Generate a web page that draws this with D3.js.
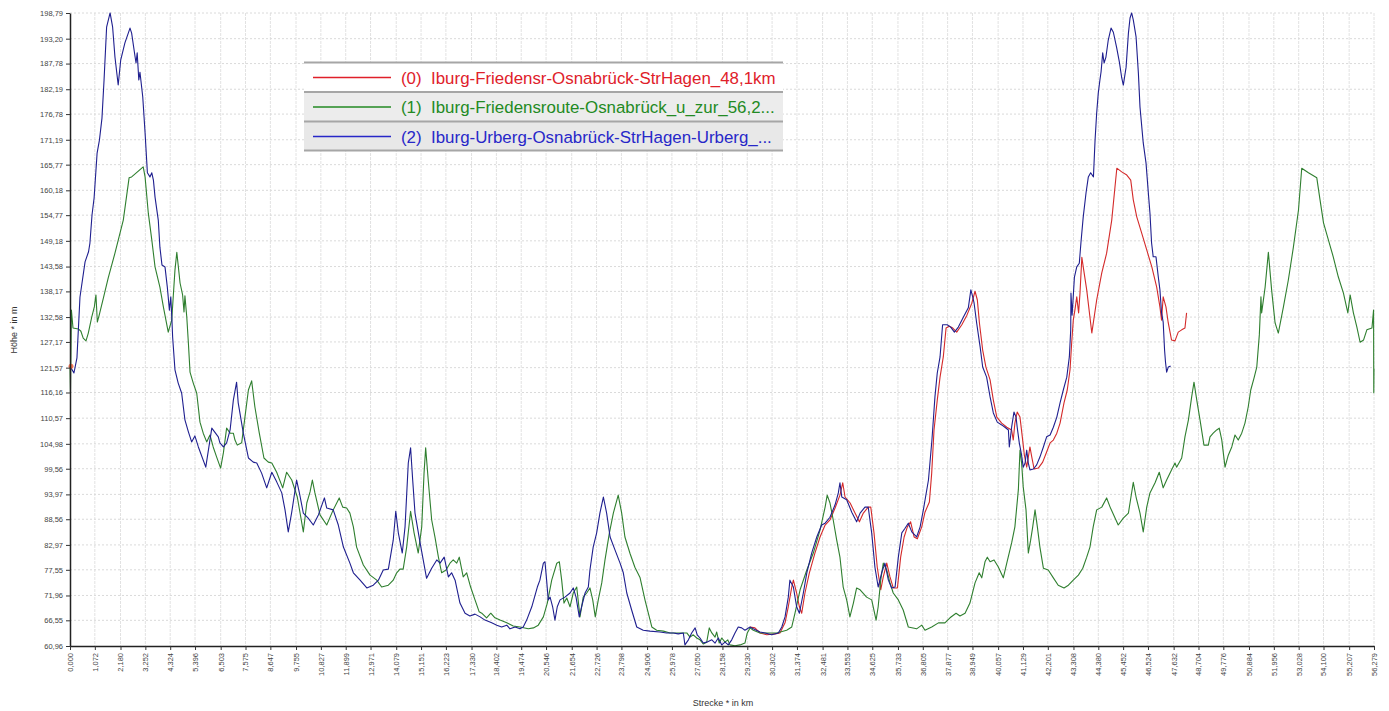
<!DOCTYPE html>
<html>
<head>
<meta charset="utf-8">
<script src="https://cdn.jsdelivr.net/npm/d3@7/dist/d3.min.js"></script>
<style>
  html, body { margin: 0; padding: 0; background: #ffffff; }
  svg { display: block; }
  text { font-family: "Liberation Sans", Arial, sans-serif; }
</style>
</head>
<body>
<svg id="chart" width="1389" height="711"></svg>
<script>
// ---------------- DATA ----------------
const xTickValues = [0.000,1.072,2.180,3.252,4.324,5.396,6.503,7.575,8.647,9.755,10.827,11.899,12.971,14.079,15.151,16.223,17.330,18.402,19.474,20.546,21.654,22.726,23.798,24.906,25.978,27.050,28.158,29.230,30.302,31.374,32.481,33.553,34.625,35.733,36.805,37.877,38.949,40.057,41.129,42.201,43.308,44.380,45.452,46.524,47.632,48.704,49.776,50.884,51.956,53.028,54.100,55.207,56.279];
const yTickValues = [60.96,66.55,71.96,77.55,82.97,88.56,93.97,99.56,104.98,110.57,116.16,121.57,127.17,132.58,138.17,143.58,149.18,154.77,160.18,165.77,171.19,176.78,182.19,187.78,193.20,198.79];

const seriesNames = [
  "(0)  Iburg-Friedensr-Osnabrück-StrHagen_48,1km",
  "(1)  Iburg-Friedensroute-Osnabrück_u_zur_56,2...",
  "(2)  Iburg-Urberg-Osnabrück-StrHagen-Urberg_..."
];

// stretch shared by route (0) and route (2): [km, m]
const sharedStart = [[0.00,121.9],[0.17,120.4],[0.30,123.7],[0.43,136.9],[0.65,144.6],[0.80,146.8],[0.86,148.7],[0.95,154.8],[1.04,158.5],[1.17,168.3],[1.27,171.1],[1.38,175.9],[1.47,184.2],[1.58,195.7],[1.73,198.8],[1.84,195.7],[1.94,189.2],[2.08,183.1],[2.19,188.6],[2.37,192.3],[2.59,195.5],[2.66,194.4],[2.81,189.2],[2.85,187.9],[2.90,190.1],[2.97,184.2],[3.02,185.9],[3.14,180.5],[3.24,172.7],[3.34,164.0],[3.45,163.1],[3.53,164.0],[3.60,162.4],[3.67,158.7],[3.81,153.7],[3.88,147.8],[3.97,143.9],[4.10,143.5],[4.20,139.1],[4.29,134.1],[4.35,137.0],[4.40,131.9],[4.43,128.2],[4.53,121.1],[4.67,118.2],[4.82,116.0],[4.96,110.2],[5.11,107.6],[5.25,105.4],[5.39,106.7],[5.54,104.3],[5.86,99.9],[6.12,108.4],[6.40,106.5],[6.47,105.2],[6.62,104.3],[6.76,105.2],[6.91,108.0],[7.05,114.5],[7.19,118.4],[7.26,113.9],[7.48,107.3],[7.70,101.9],[7.91,101.0],[8.06,100.8],[8.27,98.6],[8.49,95.4],[8.71,98.8],[8.92,96.7],[9.14,94.3],[9.28,90.6],[9.42,85.8],[9.57,90.1],[9.78,97.1],[9.90,94.3],[10.07,89.9],[10.28,88.8],[10.50,87.3],[10.72,89.5],[10.98,93.2],[11.08,91.0],[11.36,90.6],[11.58,87.3],[11.80,82.5],[12.08,79.0],[12.23,76.9],[12.52,75.3],[12.81,73.6],[13.09,74.2],[13.31,75.3],[13.52,77.5],[13.74,77.7],[13.95,84.0],[14.06,90.3],[14.17,85.6],[14.34,81.2],[14.46,86.9],[14.60,100.8],[14.70,104.1],[14.79,97.1],[14.89,89.9],[15.11,83.4],[15.39,75.7],[15.61,77.9],[15.83,79.7],[15.97,79.0],[16.15,80.3],[16.33,76.0],[16.47,76.9],[16.62,75.3],[16.83,70.3],[17.05,68.1],[17.26,67.5],[17.48,67.9],[17.70,67.3],[17.91,66.6],[18.20,66.0],[18.42,65.5],[18.63,65.1],[18.85,65.5],[18.99,64.7],[19.21,65.1],[19.42,64.7],[19.56,65.1],[19.71,66.6],[19.93,69.5],[20.17,73.8],[20.28,75.3],[20.43,79.0],[20.50,79.3],[20.57,75.3],[20.64,71.0],[20.72,71.6],[20.83,69.5],[20.93,66.6],[21.03,69.5],[21.15,71.0],[21.36,71.6],[21.58,72.5],[21.72,73.6],[21.84,71.6],[21.98,67.3],[22.08,69.5],[22.23,72.5],[22.37,73.8],[22.44,77.5],[22.58,82.5],[22.73,85.6],[22.87,89.9],[23.02,93.4],[23.16,89.9],[23.31,84.7],[23.52,81.9],[23.74,79.0],[23.88,76.9],[24.03,72.5],[24.24,68.8],[24.46,65.1],[24.74,64.4],[25.03,64.2],[25.46,64.0],[25.75,63.8],[26.04,63.8],[26.25,63.6],[26.47,63.8],[26.54,61.2],[26.69,62.3],[26.83,63.8],[26.98,64.9],[27.07,63.4],[27.19,62.7],[27.33,61.6],[27.48,61.8],[27.70,62.3],[27.84,61.6],[27.98,62.7],[28.13,61.2],[28.27,61.8],[28.41,61.2],[28.56,62.3],[28.70,63.8],[28.84,65.1],[28.99,64.9],[29.13,64.4],[29.35,65.1]];

// route (0) after the shared stretch
const route0Tail = [[29.56,64.9],[29.78,63.8],[30.07,63.4],[30.43,63.6],[30.64,63.8],[30.86,66.0],[31.00,69.5],[31.15,73.8],[31.22,75.3],[31.36,72.5],[31.48,69.5],[31.58,68.1],[31.72,72.5],[31.91,76.9],[32.15,81.2],[32.37,84.7],[32.59,87.3],[32.80,88.4],[33.02,91.0],[33.23,93.8],[33.35,96.5],[33.45,93.4],[33.67,92.1],[33.88,89.9],[34.07,88.0],[34.24,89.9],[34.45,91.2],[34.56,91.2],[34.70,85.6],[34.84,78.1],[34.99,73.2],[35.10,76.0],[35.25,79.0],[35.39,76.0],[35.53,73.6],[35.71,73.6],[35.85,80.3],[36.00,84.7],[36.14,86.9],[36.28,88.0],[36.43,84.7],[36.57,84.3],[36.76,86.9],[36.90,90.1],[37.09,92.3],[37.19,98.6],[37.29,108.0],[37.43,114.5],[37.55,119.5],[37.69,123.9],[37.81,130.2],[37.95,130.6],[38.10,130.2],[38.27,129.3],[38.49,130.9],[38.71,133.0],[38.92,135.6],[39.06,138.2],[39.16,136.3],[39.25,131.3],[39.39,125.4],[39.53,121.7],[39.71,118.9],[39.85,114.5],[40.00,110.8],[40.21,109.5],[40.43,108.6],[40.64,108.0],[40.71,105.8],[40.78,109.5],[40.88,111.9],[41.00,110.8],[41.10,106.5],[41.19,102.5],[41.29,99.9],[41.36,102.1],[41.43,104.3],[41.51,102.1],[41.61,99.5],[41.79,99.7],[41.98,101.0],[42.15,103.2],[42.30,105.2],[42.44,105.8],[42.59,107.3],[42.73,109.5],[42.90,113.9],[43.04,116.7],[43.16,121.1],[43.23,126.9],[43.30,131.9],[43.37,134.1],[43.45,137.0],[43.53,133.5],[43.59,137.8],[43.67,145.6],[43.73,143.5],[43.88,138.5],[44.10,129.1],[44.31,136.3],[44.53,142.2],[44.74,146.5],[44.96,153.7],[45.10,160.9],[45.18,165.0],[45.39,164.2],[45.61,163.5],[45.78,162.4],[45.89,158.1],[46.04,154.4],[46.25,150.9],[46.47,147.2],[46.69,143.5],[46.90,139.1],[47.04,134.8],[47.11,131.9],[47.18,137.0],[47.30,134.8],[47.40,131.3],[47.54,127.6],[47.69,127.4],[47.83,129.3],[47.98,129.8],[48.12,130.2],[48.19,133.5]];

// route (2) after the shared stretch
const route2Tail = [[29.49,64.7],[29.78,64.0],[30.00,63.8],[30.28,63.4],[30.57,63.8],[30.72,65.1],[30.86,67.3],[31.00,71.6],[31.07,75.3],[31.22,73.8],[31.36,69.5],[31.48,68.1],[31.65,72.5],[31.80,76.9],[32.01,81.2],[32.23,84.7],[32.44,87.3],[32.59,87.7],[32.80,89.0],[33.02,91.7],[33.16,94.3],[33.23,96.5],[33.31,93.4],[33.52,92.8],[33.74,90.1],[33.95,88.0],[34.10,89.9],[34.31,91.2],[34.45,91.2],[34.60,85.6],[34.74,78.1],[34.88,73.8],[35.03,76.9],[35.17,79.0],[35.32,75.3],[35.46,73.6],[35.61,73.8],[35.75,80.3],[35.90,85.6],[36.04,86.6],[36.18,87.7],[36.33,85.8],[36.54,84.7],[36.69,86.9],[36.83,90.6],[37.05,97.1],[37.20,105.8],[37.33,115.2],[37.43,120.4],[37.55,123.9],[37.66,130.9],[37.86,130.9],[38.01,130.4],[38.17,129.3],[38.34,130.4],[38.56,132.6],[38.77,134.6],[38.88,138.5],[38.96,137.0],[39.02,135.6],[39.13,131.3],[39.28,126.1],[39.39,121.7],[39.56,119.5],[39.71,115.2],[39.85,111.7],[40.02,109.7],[40.21,109.1],[40.35,108.6],[40.50,108.0],[40.54,104.3],[40.64,108.6],[40.74,111.9],[40.83,110.8],[40.88,108.6],[40.97,105.2],[41.07,102.5],[41.14,99.9],[41.22,100.8],[41.29,103.6],[41.36,100.8],[41.43,99.3],[41.58,99.5],[41.72,100.4],[41.86,102.1],[42.01,104.3],[42.15,106.5],[42.30,106.9],[42.44,108.6],[42.59,110.8],[42.73,113.9],[42.87,116.7],[43.02,119.5],[43.13,123.9],[43.19,129.8],[43.20,137.8],[43.25,133.0],[43.35,141.3],[43.45,143.5],[43.56,144.3],[43.63,148.7],[43.73,154.4],[43.85,159.6],[43.95,163.1],[44.05,164.0],[44.17,163.1],[44.24,171.1],[44.31,177.0],[44.38,181.4],[44.45,184.2],[44.50,186.0],[44.57,190.1],[44.63,187.9],[44.71,189.2],[44.81,192.9],[44.93,195.5],[45.03,194.6],[45.17,191.3],[45.29,188.1],[45.39,184.7],[45.46,183.1],[45.58,187.0],[45.68,194.4],[45.75,197.7],[45.82,198.8],[45.89,197.3],[46.01,193.6],[46.11,185.7],[46.18,178.3],[46.32,170.5],[46.44,166.1],[46.54,159.6],[46.61,155.2],[46.68,148.7],[46.75,145.7],[46.87,145.7],[46.97,141.3],[47.04,138.5],[47.11,133.5],[47.18,131.5],[47.24,125.4],[47.28,122.8],[47.33,120.6],[47.40,121.7],[47.50,121.9]];

// route (1)
const route1 = [[0.00,121.7],[0.02,116.1],[0.06,134.1],[0.13,130.2],[0.36,130.0],[0.47,129.5],[0.57,128.0],[0.69,127.4],[0.79,129.1],[0.94,132.6],[1.05,134.8],[1.12,137.4],[1.18,131.5],[1.26,133.0],[1.44,136.7],[1.65,141.1],[1.94,146.5],[2.30,153.7],[2.55,162.9],[2.66,163.1],[3.16,165.3],[3.24,163.1],[3.38,155.2],[3.53,149.4],[3.67,143.5],[3.88,139.1],[4.03,134.8],[4.24,129.3],[4.39,131.9],[4.53,142.8],[4.61,146.7],[4.75,140.0],[4.86,137.4],[4.92,133.7],[4.96,137.2],[5.04,132.6],[5.11,126.9],[5.18,120.6],[5.32,118.2],[5.47,116.0],[5.61,109.7],[5.75,107.3],[5.90,105.4],[6.04,106.9],[6.18,104.3],[6.33,102.1],[6.50,99.7],[6.62,103.0],[6.76,108.4],[6.91,107.3],[7.05,107.3],[7.12,105.8],[7.22,104.7],[7.41,105.2],[7.55,110.8],[7.70,116.7],[7.84,118.7],[7.98,113.0],[8.17,107.3],[8.37,101.9],[8.56,101.0],[8.71,100.8],[8.92,98.8],[9.18,95.4],[9.35,98.8],[9.57,97.1],[9.81,93.4],[10.07,85.8],[10.22,92.1],[10.36,94.5],[10.46,97.1],[10.57,94.3],[10.79,89.5],[11.08,87.3],[11.36,90.6],[11.62,93.2],[11.77,91.2],[11.94,91.0],[12.08,89.9],[12.23,86.9],[12.37,82.5],[12.66,78.6],[12.95,76.4],[13.24,75.3],[13.45,73.8],[13.74,74.2],[13.95,75.3],[14.10,76.9],[14.24,77.7],[14.38,77.7],[14.53,82.5],[14.70,90.3],[14.85,85.6],[15.03,81.2],[15.18,86.9],[15.28,98.6],[15.35,104.1],[15.46,97.1],[15.61,88.4],[15.75,84.7],[15.90,80.3],[16.04,76.9],[16.23,77.5],[16.40,79.0],[16.54,79.7],[16.69,79.0],[16.80,80.3],[16.97,76.0],[17.12,76.9],[17.29,73.8],[17.48,71.0],[17.66,68.4],[17.77,68.1],[17.98,67.1],[18.16,68.1],[18.34,67.1],[18.56,66.6],[18.85,66.0],[19.13,65.3],[19.42,65.1],[19.78,64.7],[20.00,64.9],[20.21,65.5],[20.43,67.3],[20.60,70.3],[20.79,75.3],[21.01,79.0],[21.12,79.3],[21.22,75.3],[21.32,70.3],[21.44,71.4],[21.58,69.5],[21.72,72.5],[21.87,73.8],[22.01,67.3],[22.15,71.6],[22.30,72.5],[22.44,73.6],[22.56,71.0],[22.67,67.3],[22.80,71.0],[22.95,74.7],[23.09,79.7],[23.28,85.6],[23.45,89.9],[23.66,93.8],[23.81,89.9],[23.95,84.7],[24.17,81.1],[24.38,78.1],[24.60,75.9],[24.82,70.9],[24.96,68.1],[25.11,65.1],[25.32,64.4],[25.61,64.2],[25.90,63.8],[26.18,63.8],[26.40,63.8],[26.62,63.8],[26.76,62.9],[26.90,63.4],[27.05,62.7],[27.19,62.3],[27.33,61.4],[27.48,61.8],[27.59,64.9],[27.70,63.8],[27.84,62.9],[27.91,64.0],[28.02,61.6],[28.13,62.7],[28.27,61.8],[28.39,62.3],[28.48,61.2],[28.70,61.0],[28.92,61.2],[29.13,61.6],[29.23,63.8],[29.35,64.9],[29.49,64.4],[29.78,63.8],[30.07,63.8],[30.50,63.8],[30.93,64.4],[31.15,65.1],[31.29,68.1],[31.51,73.2],[31.80,77.5],[32.08,81.2],[32.37,86.2],[32.59,91.2],[32.68,93.8],[32.80,92.1],[32.94,88.4],[33.09,84.0],[33.23,80.3],[33.37,73.8],[33.52,71.0],[33.66,67.3],[33.81,70.3],[33.95,73.6],[34.10,73.2],[34.38,71.6],[34.60,71.0],[34.79,66.6],[34.88,69.5],[34.99,75.3],[35.10,79.0],[35.25,77.5],[35.39,74.7],[35.53,72.5],[35.75,71.0],[35.96,68.8],[36.18,65.1],[36.54,64.7],[36.76,65.5],[36.90,64.4],[37.19,65.1],[37.48,66.0],[37.76,66.0],[37.98,67.1],[38.24,68.1],[38.41,67.5],[38.63,68.1],[38.84,70.3],[39.06,74.7],[39.24,76.9],[39.35,75.8],[39.49,79.3],[39.59,80.3],[39.71,79.3],[39.88,79.7],[40.06,78.2],[40.28,75.8],[40.43,79.0],[40.64,83.4],[40.78,86.9],[40.93,95.0],[41.00,103.6],[41.07,100.8],[41.14,95.6],[41.26,90.6],[41.36,81.2],[41.46,84.0],[41.55,86.9],[41.65,90.6],[41.75,86.9],[41.86,82.5],[42.01,77.9],[42.22,77.5],[42.44,75.8],[42.65,74.2],[42.90,73.6],[43.09,74.2],[43.30,75.3],[43.52,76.4],[43.71,77.9],[43.88,80.3],[44.02,82.5],[44.16,86.9],[44.31,90.6],[44.53,91.2],[44.74,93.2],[44.89,91.2],[45.24,87.3],[45.46,88.8],[45.68,89.9],[45.89,96.6],[46.01,93.4],[46.18,89.9],[46.32,85.8],[46.47,91.2],[46.61,94.3],[46.83,96.5],[47.01,98.8],[47.18,95.4],[47.33,97.1],[47.54,99.3],[47.69,100.8],[47.76,99.9],[47.98,101.9],[48.12,106.5],[48.27,110.2],[48.41,115.2],[48.51,118.4],[48.63,114.5],[48.77,110.2],[48.94,104.7],[49.13,104.7],[49.20,106.5],[49.34,107.3],[49.49,108.0],[49.60,108.4],[49.71,105.8],[49.85,99.9],[49.99,102.5],[50.14,104.3],[50.28,106.9],[50.42,105.8],[50.57,107.3],[50.71,109.5],[50.85,113.0],[50.96,116.7],[51.10,119.3],[51.22,121.7],[51.33,128.7],[51.40,137.0],[51.43,133.5],[51.58,139.1],[51.72,146.7],[51.86,138.5],[52.01,131.3],[52.15,129.1],[52.37,134.8],[52.58,140.6],[52.80,147.8],[53.02,155.9],[53.16,165.0],[53.45,164.0],[53.81,162.9],[53.95,158.1],[54.10,153.1],[54.31,149.4],[54.52,145.7],[54.74,141.3],[54.96,137.8],[55.15,133.5],[55.25,137.4],[55.39,133.5],[55.54,130.4],[55.68,127.1],[55.83,127.6],[55.97,129.8],[56.19,130.2],[56.26,134.1],[56.27,116.1],[56.279,121.4]];

const route0 = sharedStart.concat(route0Tail);
const route2 = sharedStart.concat(route2Tail);

// ---------------- CHART ----------------
const W = 1389, H = 711;
const plot = { left: 70, right: 1374, top: 13, bottom: 646 };
const svg = d3.select("#chart");
svg.append("rect").attr("width", W).attr("height", H).attr("fill", "#ffffff");

const x = d3.scaleLinear().domain([0, 56.279]).range([plot.left, plot.right]);
const y = d3.scaleLinear().domain([60.96, 198.79]).range([plot.bottom, plot.top]);

const fmt = (d, p) => d.toFixed(p).replace(".", ",");

// grid
const grid = svg.append("g");
grid.selectAll("line.v").data(xTickValues.slice(1)).join("line")
  .attr("x1", d => x(d)).attr("x2", d => x(d))
  .attr("y1", plot.top).attr("y2", plot.bottom)
  .attr("stroke", "#e2e2e2").attr("stroke-width", 1)
  .attr("stroke-dasharray", "3,1");
grid.selectAll("line.h").data(yTickValues.slice(1)).join("line")
  .attr("x1", plot.left).attr("x2", plot.right)
  .attr("y1", d => y(d)).attr("y2", d => y(d))
  .attr("stroke", "#dadada").attr("stroke-width", 1)
  .attr("stroke-dasharray", "2,2");

// the stretch of route (0) that lies beneath route (2) is hidden, as in the original
const shared = sharedStart[sharedStart.length - 1][0];
svg.append("clipPath").attr("id", "clip0").append("rect")
  .attr("x", x(shared)).attr("y", 0)
  .attr("width", W - x(shared)).attr("height", H);

// lines
const line = d3.line().x(d => x(d[0])).y(d => y(d[1]));
const lineColors = ["#d42a2a", "#2f7f2f", "#1f1f8f"];
const routes = [route0, route1, route2];
routes.forEach((r, i) => {
  const p = svg.append("path").datum(r)
    .attr("fill", "none")
    .attr("stroke", lineColors[i])
    .attr("stroke-width", 1.1)
    .attr("stroke-linejoin", "round")
    .attr("d", line);
  if (i === 0) p.attr("clip-path", "url(#clip0)");
});
// start marker of route (0)
svg.append("circle").attr("cx", x(route0[0][0]) + 1).attr("cy", y(route0[0][1]))
  .attr("r", 2.5).attr("fill", "#f0603c").attr("opacity", 0.85);

// axes
const yAxis = d3.axisLeft(y).tickValues(yTickValues).tickFormat(d => fmt(d, 2))
  .tickSize(4).tickSizeOuter(0).tickPadding(3);
const gy = svg.append("g").attr("transform", `translate(${plot.left},0)`).call(yAxis);
gy.selectAll("text").attr("font-size", 7.5).attr("fill", "#444")
  .attr("font-family", "'Liberation Sans', Arial, sans-serif");
gy.selectAll("line").attr("stroke", "#333");
gy.select(".domain").attr("stroke", "#222").attr("stroke-width", 1.5);

const xAxis = d3.axisBottom(x).tickValues(xTickValues).tickFormat(d => fmt(d, 3))
  .tickSize(4).tickSizeOuter(0);
const gx = svg.append("g").attr("transform", `translate(0,${plot.bottom})`).call(xAxis);
gx.selectAll("text")
  .attr("transform", "rotate(-90)")
  .attr("text-anchor", "end")
  .attr("x", -7).attr("y", 0).attr("dy", "0.33em")
  .attr("font-size", 7.5).attr("fill", "#444")
  .attr("font-family", "'Liberation Sans', Arial, sans-serif");
gx.selectAll("line").attr("stroke", "#333");
gx.select(".domain").attr("stroke", "#222").attr("stroke-width", 1.5);

// axis titles
svg.append("text").attr("transform", "translate(17,330) rotate(-90)")
  .attr("text-anchor", "middle").attr("font-size", 9).attr("fill", "#333")
  .text("Höhe * in m");
svg.append("text").attr("x", 723).attr("y", 706)
  .attr("text-anchor", "middle").attr("font-size", 9).attr("fill", "#333")
  .text("Strecke * in km");

// legend
const legend = { left: 304, right: 783, top: 62, rowH: 29.5 };
const legendText = ["#e0202a", "#238a23", "#2727c8"];
const rowFill = ["#ffffff", "#ececec", "#e8e8e8"];
const lg = svg.append("g");
seriesNames.forEach((name, i) => {
  const top = legend.top + i * legend.rowH;
  lg.append("rect").attr("x", legend.left).attr("y", top)
    .attr("width", legend.right - legend.left).attr("height", legend.rowH)
    .attr("fill", rowFill[i]);
  lg.append("line").attr("x1", legend.left).attr("x2", legend.right)
    .attr("y1", top + 0.5).attr("y2", top + 0.5)
    .attr("stroke", "#a6a6a6").attr("stroke-width", 2);
  lg.append("line").attr("x1", 313).attr("x2", 391)
    .attr("y1", top + 15.5).attr("y2", top + 15.5)
    .attr("stroke", legendText[i]).attr("stroke-width", 1.3);
  lg.append("text").attr("x", 401).attr("y", top + 21.5)
    .attr("font-size", 16.9).attr("fill", legendText[i])
    .attr("xml:space", "preserve").style("white-space", "pre")
    .text(name);
});
lg.append("line").attr("x1", legend.left).attr("x2", legend.right)
  .attr("y1", legend.top + 3 * legend.rowH).attr("y2", legend.top + 3 * legend.rowH)
  .attr("stroke", "#a6a6a6").attr("stroke-width", 2);
</script>
</body>
</html>
